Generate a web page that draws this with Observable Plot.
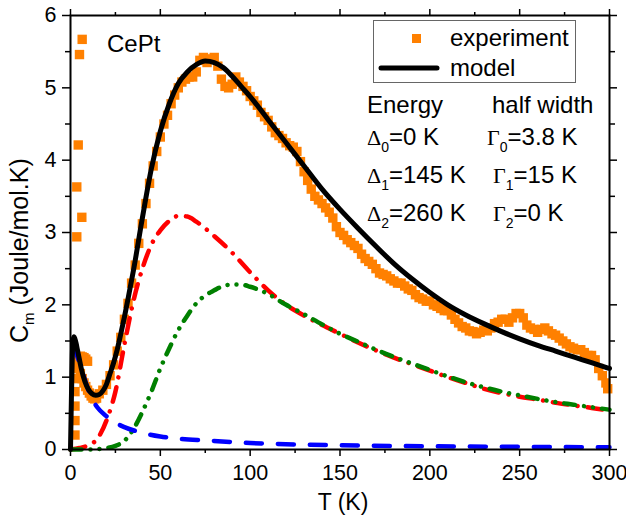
<!DOCTYPE html>
<html><head><meta charset="utf-8">
<script src="https://cdn.jsdelivr.net/npm/d3@7"></script>
<script src="https://cdn.jsdelivr.net/npm/@observablehq/plot@0.6"></script>
<style>body{margin:0;background:#fff;}</style>
</head><body><div id="chart"></div>
<script>
// ---- data ----
const expT = [2.5,2.5,2.5,2.5,2.5,2.5, 3.5,3.5,4.3,5.0,6.3,6.5,
  3.5,4.5,5.5,6.5,7.5,8.5,9.5, 5.5,6.5,7.5,8.5,9.5,10.5,11.5,12.5,13.5,14.5,
  16,18,20,22,24,26,28,30,32,34,36,38,40,42,44,46,48,50,52,54,56,58,60,62,64,66,68,70,72,74,76,78,80,82,84,86,88,90,92,94,96,98,100,
  102,104,106,108,110,112,114,116,118,120,122,124,126,128,130,132,134,136,138,140,142,144,146,148,150,152,154,156,158,160,162,164,166,168,170,172,174,176,178,180,182,184,186,188,190,192,194,196,198,200,
  202,204,206,208,210,212,214,216,218,220,222,224,226,228,230,232,234,236,238,240,242,244,246,248,250,252,254,256,258,260,262,264,266,268,270,272,274,276,278,280,282,284,286,288,290,292,294,296,298,299];
const expC = [0.2,0.4,0.6,0.8,0.98,1.12, 2.94,3.63,4.21,5.46,3.21,5.67,
  1.22,1.27,1.29,1.28,1.27,1.25,1.22, 1.05,0.98,0.92,0.87,0.82,0.78,0.74,0.71,0.7,0.71,
  0.77,0.82,0.9,1.02,1.17,1.36,1.55,1.8,2.02,2.3,2.55,2.85,3.12,3.4,3.68,3.92,4.12,4.32,4.5,4.62,4.78,4.9,5.0,5.08,5.12,5.15,5.15,5.22,5.38,5.42,5.35,5.4,5.42,5.3,5.12,5.02,5.0,5.05,5.15,5.08,5.02,4.96,4.88,
  4.82,4.76,4.66,4.6,4.55,4.46,4.38,4.34,4.3,4.24,4.2,4.18,4.12,3.98,3.84,3.72,3.6,3.5,3.45,3.4,3.34,3.28,3.2,3.08,3.0,2.96,2.9,2.86,2.82,2.78,2.7,2.64,2.6,2.56,2.5,2.44,2.42,2.4,2.36,2.33,2.3,2.3,2.26,2.22,2.2,2.14,2.1,2.08,2.05,2.05,
  2.0,1.98,1.95,1.92,1.92,1.86,1.8,1.75,1.7,1.68,1.64,1.63,1.6,1.62,1.65,1.64,1.68,1.74,1.76,1.8,1.8,1.76,1.82,1.88,1.88,1.82,1.72,1.68,1.66,1.62,1.66,1.68,1.64,1.6,1.58,1.54,1.5,1.46,1.42,1.4,1.38,1.38,1.34,1.3,1.3,1.24,1.12,1.02,0.92,0.84];

const modelT = [0,0.5,1,1.5,2,3,4,5,6,8,10,12,14,16,18,20,22,24,26,28,30,32,35,40,45,50,55,60,65,70,75,80,85,90,95,100,110,120,130,140,150,160,170,180,190,200,210,220,230,240,250,260,270,280,290,300];
const modelC = [0,0.7,1.3,1.52,1.56,1.48,1.36,1.24,1.12,0.94,0.83,0.77,0.75,0.76,0.81,0.9,1.05,1.2,1.38,1.6,1.83,2.08,2.47,3.2,3.88,4.4,4.78,5.06,5.22,5.32,5.37,5.35,5.28,5.16,5.02,4.88,4.56,4.24,3.92,3.6,3.32,3.06,2.81,2.57,2.36,2.17,2.0,1.86,1.74,1.63,1.53,1.44,1.36,1.28,1.2,1.12];

const redT = [0,5,10,15,20,25,30,35,40,45,50,55,60,65,70,80,90,100,110,120,130,140,150,160,170,180,190,200,210,220,230,240,250,260,270,280,290,300];
const redC = [0,0.02,0.06,0.15,0.4,0.8,1.45,2.05,2.5,2.83,3.03,3.16,3.23,3.22,3.15,2.95,2.72,2.45,2.2,2.0,1.85,1.72,1.6,1.48,1.37,1.27,1.18,1.09,1.0,0.92,0.84,0.78,0.73,0.69,0.645,0.61,0.575,0.54];

const greenT = [0,10,15,20,25,30,35,40,45,50,55,60,65,70,75,80,85,90,95,100,110,120,130,140,150,160,170,180,190,200,210,220,230,240,250,260,270,280,290,300];
const greenC = [0,0,0.005,0.02,0.05,0.12,0.28,0.52,0.8,1.12,1.4,1.65,1.85,2.02,2.13,2.2,2.26,2.28,2.28,2.25,2.15,2.0,1.87,1.73,1.6,1.49,1.38,1.28,1.19,1.1,1.01,0.93,0.86,0.8,0.75,0.7,0.655,0.62,0.585,0.55];

const blueT = [2,3,5,7.5,10,12.5,15,20,25,30,40,50,60,75,100,125,150,200,250,300];
const blueC = [1.45,1.35,1.2,1.0,0.82,0.68,0.58,0.46,0.37,0.31,0.23,0.18,0.15,0.125,0.09,0.07,0.058,0.045,0.037,0.03];

const xMajor = [0,50,100,150,200,250,300];
const xMinor = [25,75,125,175,225,275];
const yMajor = [0,1,2,3,4,5,6];
const yMinor = [0.5,1.5,2.5,3.5,4.5,5.5];

const legendLabels = ["experiment", "model"];
const sampleName = "CePt";
const xTitle = "T (K)";
const yTitle = ["C", "m", " (Joule/mol.K)"];
const paramHeader = ["Energy", "half width"];
const deltaLabels = ["=0 K", "=145 K", "=260 K"];
const gammaLabels = ["=3.8 K", "=15 K", "=0 K"];

// ---- tables ----
const exp = expT.map((t, i) => ({T: t, C: expC[i]}));
const model = modelT.map((t, i) => ({T: t, C: modelC[i]}));
const red = redT.map((t, i) => ({T: t, C: redC[i]}));
const green = greenT.map((t, i) => ({T: t, C: greenC[i]}));
const blue = blueT.map((t, i) => ({T: t, C: blueC[i]}));

const ORANGE = "#ff8000";
const FONT = "'Liberation Sans', Arial, sans-serif";
const SERIF = "'Liberation Serif', 'Times New Roman', serif";
const fmt = d => String(d);

const chart = Plot.plot({
  width: 626, height: 524,
  marginLeft: 70, marginRight: 17, marginTop: 15, marginBottom: 75,
  x: {domain: [0, 300]},
  y: {domain: [0, 6]},
  style: {fontFamily: FONT, fontSize: "21.5px", color: "#000", background: "#fff"},
  marks: [
    Plot.dot(exp, {x: "T", y: "C", symbol: "square", r: 5.3, fill: ORANGE, stroke: null}),
    Plot.line(red, {x: "T", y: "C", stroke: "#ff0000", strokeWidth: 4.5, strokeDasharray: "15,10,0.01,10", curve: "monotone-x"}),
    Plot.line(green, {x: "T", y: "C", stroke: "#008000", strokeWidth: 4.5, strokeDasharray: "11,9,0.01,9,0.01,9", curve: "monotone-x"}),
    Plot.line(blue, {x: "T", y: "C", stroke: "#0000ff", strokeWidth: 4.5, strokeDasharray: "16,16", curve: "monotone-x"}),
    Plot.line(model, {x: "T", y: "C", stroke: "#000", strokeWidth: 5, curve: "monotone-x"}),
    Plot.frame({stroke: "#000", strokeWidth: 2}),
    Plot.axisX({ticks: xMajor, tickSize: 7, tickPadding: 8, strokeWidth: 1.5, tickFormat: fmt, label: null}),
    Plot.axisX({ticks: xMinor, tickSize: 4, strokeWidth: 1.5, tickFormat: () => "", label: null}),
    Plot.axisX({anchor: "top", ticks: xMajor, tickSize: 7, strokeWidth: 1.5, tickFormat: () => "", label: null}),
    Plot.axisX({anchor: "top", ticks: xMinor, tickSize: 4, strokeWidth: 1.5, tickFormat: () => "", label: null}),
    Plot.axisY({ticks: yMajor, tickSize: 8, tickPadding: 6, strokeWidth: 1.5, tickFormat: fmt, label: null}),
    Plot.axisY({ticks: yMinor, tickSize: 5, strokeWidth: 1.5, tickFormat: () => "", label: null}),
    Plot.axisY({anchor: "right", ticks: yMajor, tickSize: 7, strokeWidth: 1.5, tickFormat: () => "", label: null}),
    Plot.axisY({anchor: "right", ticks: yMinor, tickSize: 5, strokeWidth: 1.5, tickFormat: () => "", label: null})
  ]
});

const svg = d3.select(chart);
const g = svg.append("g").attr("font-family", FONT).attr("fill", "#000").attr("text-anchor", "start");

// axis titles
g.append("text").attr("x", 343).attr("y", 510).attr("text-anchor", "middle").attr("font-size", 23).text(xTitle);
const yt = g.append("text").attr("transform", "translate(28,343) rotate(-90)").attr("font-size", 25);
yt.append("tspan").text(yTitle[0]);
yt.append("tspan").attr("font-size", 15).attr("dy", 6).text(yTitle[1]);
yt.append("tspan").attr("dy", -6).text(yTitle[2]);

// sample name
g.append("text").attr("x", 107).attr("y", 52).attr("font-size", 24).text(sampleName);

// legend
const lg = g.append("g");
lg.append("rect").attr("x", 373.5).attr("y", 20.5).attr("width", 202).attr("height", 62)
  .attr("fill", "#fff").attr("stroke", "#666").attr("stroke-width", 1);
lg.append("rect").attr("x", 412).attr("y", 34).attr("width", 9).attr("height", 9).attr("fill", ORANGE);
lg.append("line").attr("x1", 381).attr("x2", 437).attr("y1", 68).attr("y2", 68).attr("stroke", "#000").attr("stroke-width", 5).attr("stroke-linecap", "round");
lg.append("text").attr("x", 450).attr("y", 46).attr("font-size", 24).text(legendLabels[0]);
lg.append("text").attr("x", 450).attr("y", 76).attr("font-size", 24).text(legendLabels[1]);

// parameter table
g.append("text").attr("x", 367).attr("y", 113).attr("font-size", 24).text(paramHeader[0]);
g.append("text").attr("x", 492).attr("y", 113).attr("font-size", 24).text(paramHeader[1]);
const rowY = [145, 183, 221];
const gammaX = [487, 493, 493];
rowY.forEach((yy, i) => {
  const a = g.append("text").attr("x", 367).attr("y", yy).attr("font-size", 24);
  a.append("tspan").attr("font-family", SERIF).attr("font-size", 22).text("\u0394");
  a.append("tspan").attr("font-size", 14).attr("dy", 7).text(String(i));
  a.append("tspan").attr("dy", -7).text(deltaLabels[i]);
  const b = g.append("text").attr("x", gammaX[i]).attr("y", yy).attr("font-size", 24);
  b.append("tspan").attr("font-family", SERIF).attr("font-size", 22).text("\u0393");
  b.append("tspan").attr("font-size", 14).attr("dy", 7).text(String(i));
  b.append("tspan").attr("dy", -7).text(gammaLabels[i]);
});

document.getElementById("chart").appendChild(chart);
</script>
</body></html>
